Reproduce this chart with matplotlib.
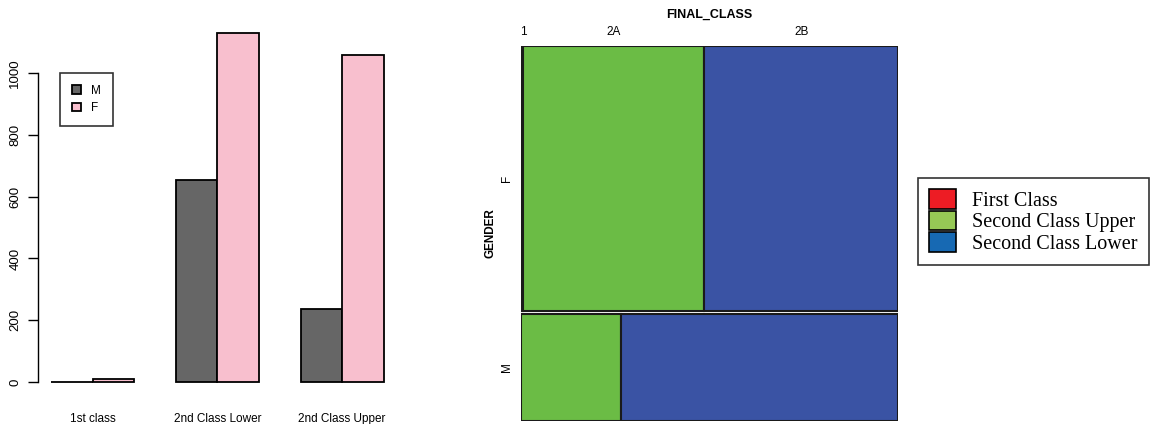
import numpy as np
import matplotlib
matplotlib.use('Agg')
import matplotlib.pyplot as plt
from matplotlib.patches import Patch

plt.rcParams['font.family'] = ['Liberation Sans', 'DejaVu Sans']

# counts by class and gender
classes = ['1st class', '2nd Class Lower', '2nd Class Upper']
male = [0, 654, 236]
female = [10, 1130, 1060]

# mosaic columns (FINAL_CLASS) -> 1 = first, 2A = second upper, 2B = second lower
mosaic_cols = ['1', '2A', '2B']
mosaic_rows = ['F', 'M']
mosaic_counts = {'F': [10, 1060, 1130], 'M': [0, 236, 654]}
mosaic_colors = ['#ED1C24', '#6BBC45', '#3A53A4']

legend_labels = ['First Class', 'Second Class Upper', 'Second Class Lower']
legend_colors = ['#ED1C24', '#96C955', '#1769B3']

W, H = 1152, 424
fig = plt.figure(figsize=(W / 100, H / 100), dpi=100)

def px(x0, y0, x1, y1):
    # pixel box (top-left origin) -> figure fraction rect
    return [x0 / W, 1 - y1 / H, (x1 - x0) / W, (y1 - y0) / H]

# ---------------- left: grouped bar chart ----------------
ax = fig.add_axes(px(38, 19, 397, 396))
xm = np.array([1.5, 4.5, 7.5])
xf = xm + 1
ax.bar(xm, male, width=1, color='#666666', edgecolor='black', linewidth=1.3, label='M')
ax.bar(xf, female, width=1, color='#F8BFCE', edgecolor='black', linewidth=1.3, label='F')
ax.set_xlim(0.68, 9.32)
ymax = max(female)
ax.set_ylim(-0.04 * ymax, 1.04 * ymax)
for s in ['top', 'right', 'bottom']:
    ax.spines[s].set_visible(False)
ax.spines['left'].set_bounds(0, 1000)
ax.spines['left'].set_linewidth(1.0)
ax.set_yticks(np.arange(0, 1001, 200))
ax.tick_params(axis='y', length=7, width=1.0, pad=5, labelsize=9.5)
for lab in ax.get_yticklabels():
    lab.set_rotation(90)
    lab.set_va('center')
ax.set_xticks((xm + xf) / 2)
ax.set_xticklabels(classes)
ax.tick_params(axis='x', length=0, pad=12, labelsize=8.5)
leg = ax.legend(loc='upper left', bbox_to_anchor=((60 - 38) / 359, (396 - 73) / 377),
                fontsize=8.5, handlelength=0.75, handleheight=0.75, labelspacing=0.45,
                handletextpad=0.9, borderpad=1.0, borderaxespad=0, fancybox=False)
leg.get_frame().set_edgecolor('black')
leg.get_frame().set_linewidth(1.2)

# ---------------- right: mosaic plot ----------------
mx = fig.add_axes(px(521, 46, 898, 421))
mx.set_xlim(0, 1)
mx.set_ylim(0, 1)
mx.axis('off')
row_tot = np.array([sum(mosaic_counts[r]) for r in mosaic_rows], dtype=float)
gap = 0.006
heights = row_tot / row_tot.sum() * (1 - gap)
bottoms = {'M': 0.0, 'F': heights[1] + gap}
hts = {'F': heights[0], 'M': heights[1]}
for r in mosaic_rows:
    c = np.array(mosaic_counts[r], dtype=float)
    w = c / c.sum()
    left = np.concatenate([[0], np.cumsum(w)[:-1]])
    mx.barh(bottoms[r] + hts[r] / 2, w, left=left, height=hts[r],
            color=mosaic_colors, edgecolor='#1a1a1a', linewidth=1.5)
    mx.text(-0.037, bottoms[r] + hts[r] / 2, r, rotation=90, ha='center', va='center',
            fontsize=8.5, transform=mx.get_yaxis_transform())

cF = np.array(mosaic_counts['F'], dtype=float)
wF = cF / cF.sum()
centers = np.cumsum(wF) - wF / 2
centers[0] = max(centers[0], 0.006)
for cx, lab in zip(centers, mosaic_cols):
    mx.text(cx, 1.037, lab, ha='center', va='center', fontsize=8.5,
            transform=mx.get_xaxis_transform())
mx.text(0.5, 1.083, 'FINAL_CLASS', ha='center', va='center', fontsize=9,
        fontweight='bold', transform=mx.transAxes)
mx.text(-0.082, 0.5, 'GENDER', ha='center', va='center', rotation=90, fontsize=8.5,
        fontweight='bold', transform=mx.transAxes)

handles = [Patch(facecolor=c, edgecolor='black', linewidth=1.2) for c in legend_colors]
lg = fig.legend(handles, legend_labels, loc='upper left',
                bbox_to_anchor=(918 / W, 1 - 178 / H),
                prop={'family': 'Liberation Serif', 'size': 14.5},
                handlelength=1.35, handleheight=1.13, labelspacing=0,
                handletextpad=0.8, borderpad=0.55, borderaxespad=0, fancybox=False)
lg.get_frame().set_edgecolor('black')
lg.get_frame().set_linewidth(1.2)

fig.savefig('out.png', dpi=100)
